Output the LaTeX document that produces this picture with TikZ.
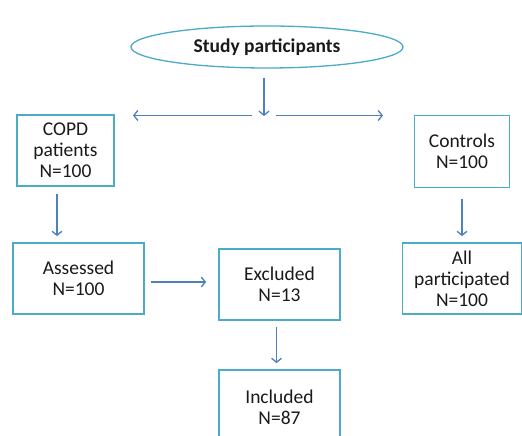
\documentclass[tikz,border=0pt]{standalone}
\usepackage{fontspec}
\setmainfont{Carlito}
\usetikzlibrary{arrows.meta,shapes.geometric}
\definecolor{boxline}{HTML}{4BACC6}
\definecolor{arrowc}{HTML}{4F81BD}
\definecolor{txt}{HTML}{1A1A1A}
\tikzset{
  box/.style={draw=boxline, line width=1.8pt, rectangle, align=center, text=txt,
    inner sep=0pt, font=\fontsize{19.5}{21}\selectfont},
  conn/.style={draw=arrowc, line width=1.3pt, -{Straight Barb[length=4pt,width=10pt]}},
  oval/.style={draw=boxline, line width=1.3pt, ellipse, inner sep=0pt, text=txt,
    font=\fontsize{19.5}{21}\selectfont\bfseries}
}
\begin{document}
\begin{tikzpicture}[x=1pt,y=1pt]
\useasboundingbox (0,0) rectangle (522,436);
\clip (0,0) rectangle (522,436);
\fill[white] (0,0) rectangle (522,436);
\node[oval, minimum width=272pt, minimum height=42pt] (sp) at (267,389) {Study participants};
\coordinate (split) at (264,320);
\coordinate (lstart) at (252,320.5);
\coordinate (lend) at (133,320.5);
\coordinate (rstart) at (276,320.5);
\coordinate (rend) at (383,320.5);
\node[box, minimum width=97pt, minimum height=71pt] (copd) at (65.5,285.5) {COPD\\patients\\N=100};
\node[box, minimum width=95pt, minimum height=72pt] (ctrl) at (462,284.5) {Controls\\N=100};
\node[box, minimum width=131pt, minimum height=71pt] (ass) at (78.5,157.5) {Assessed\\N=100};
\node[box, minimum width=121pt, minimum height=71pt] (exc) at (279.5,151.5) {Excluded\\N=13};
\node[box, minimum width=121pt, minimum height=74pt] (inc) at (279.5,29) {Included\\N=87};
\node[box, minimum width=119pt, minimum height=71pt] (allp) at (462,157.5) {All\\participated\\N=100};
\draw[conn] (sp.south -| split) ++(0,-9) -- (split);
\draw[conn] (lstart) -- (lend);
\draw[conn] (rstart) -- (rend);
\draw[conn] ([xshift=-8.5pt,yshift=-7pt]copd.south) -- ([xshift=-21.5pt,yshift=6pt]ass.north);
\draw[conn] ([yshift=-11pt]ctrl.south) -- ([yshift=6pt]allp.north);
\draw[conn] ([xshift=6pt,yshift=-3.5pt]ass.east) -- ([xshift=-12pt,yshift=2.5pt]exc.west);
\draw[conn] ([xshift=-3pt,yshift=-6pt]exc.south) -- ([xshift=-3pt,yshift=6pt]inc.north);
\end{tikzpicture}
\end{document}
